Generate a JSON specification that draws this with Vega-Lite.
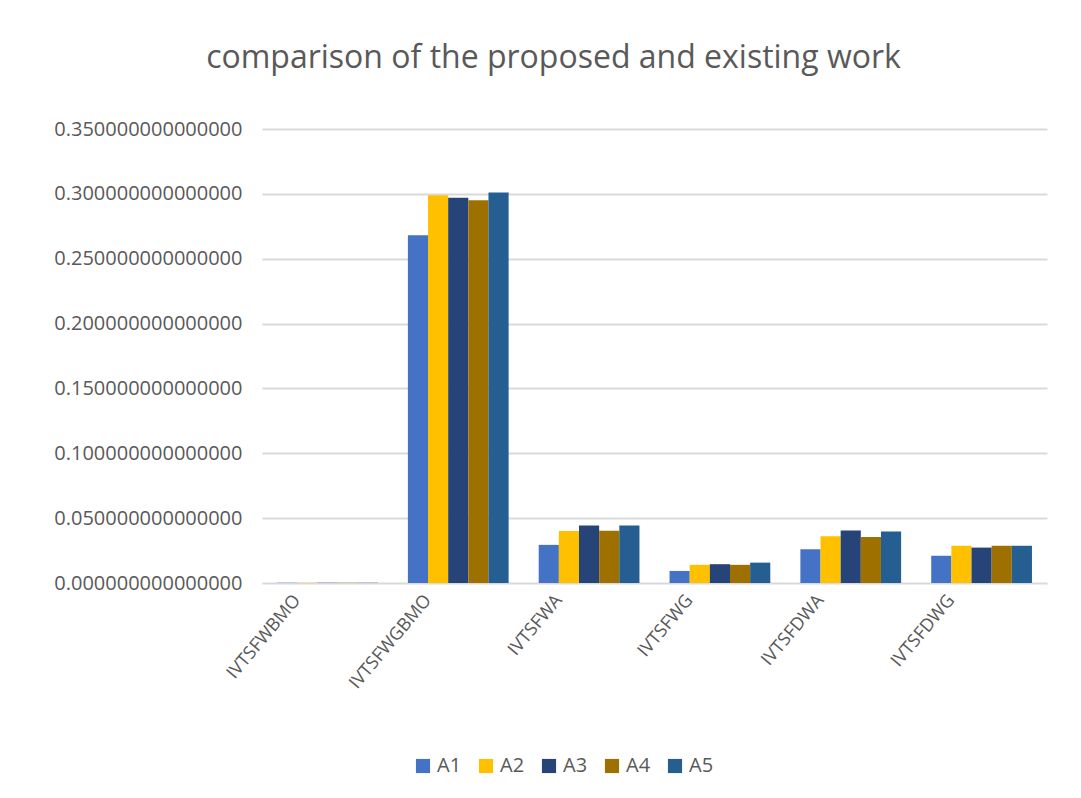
{
  "$schema": "https://vega.github.io/schema/vega-lite/v6.json",
  "autosize": "none",
  "width": 785,
  "height": 454,
  "padding": {"left": 262, "top": 129, "right": 34, "bottom": 215},
  "background": "white",
  "title": {
    "text": "comparison of the proposed and existing work",
    "font": "Open Sans",
    "fontSize": 32,
    "fontWeight": "normal",
    "color": "#595959",
    "anchor": "middle",
    "frame": "group",
    "dx": -101,
    "offset": 44
  },
  "data": {
    "values": [
      {"method": "IVTSFWBMO", "series": "A1", "value": 0.0002},
      {"method": "IVTSFWBMO", "series": "A2", "value": 0.0002},
      {"method": "IVTSFWBMO", "series": "A3", "value": 0.0002},
      {"method": "IVTSFWBMO", "series": "A4", "value": 0.0002},
      {"method": "IVTSFWBMO", "series": "A5", "value": 0.0002},
      {"method": "IVTSFWGBMO", "series": "A1", "value": 0.268},
      {"method": "IVTSFWGBMO", "series": "A2", "value": 0.299},
      {"method": "IVTSFWGBMO", "series": "A3", "value": 0.297},
      {"method": "IVTSFWGBMO", "series": "A4", "value": 0.295},
      {"method": "IVTSFWGBMO", "series": "A5", "value": 0.301},
      {"method": "IVTSFWA", "series": "A1", "value": 0.0294},
      {"method": "IVTSFWA", "series": "A2", "value": 0.0400},
      {"method": "IVTSFWA", "series": "A3", "value": 0.0443},
      {"method": "IVTSFWA", "series": "A4", "value": 0.0402},
      {"method": "IVTSFWA", "series": "A5", "value": 0.0443},
      {"method": "IVTSFWG", "series": "A1", "value": 0.0093},
      {"method": "IVTSFWG", "series": "A2", "value": 0.0140},
      {"method": "IVTSFWG", "series": "A3", "value": 0.0145},
      {"method": "IVTSFWG", "series": "A4", "value": 0.0140},
      {"method": "IVTSFWG", "series": "A5", "value": 0.0157},
      {"method": "IVTSFDWA", "series": "A1", "value": 0.0260},
      {"method": "IVTSFDWA", "series": "A2", "value": 0.0360},
      {"method": "IVTSFDWA", "series": "A3", "value": 0.0405},
      {"method": "IVTSFDWA", "series": "A4", "value": 0.0354},
      {"method": "IVTSFDWA", "series": "A5", "value": 0.0397},
      {"method": "IVTSFDWG", "series": "A1", "value": 0.0210},
      {"method": "IVTSFDWG", "series": "A2", "value": 0.0287},
      {"method": "IVTSFDWG", "series": "A3", "value": 0.0273},
      {"method": "IVTSFDWG", "series": "A4", "value": 0.0287},
      {"method": "IVTSFDWG", "series": "A5", "value": 0.0287}
    ]
  },
  "mark": {"type": "bar"},
  "encoding": {
    "x": {
      "field": "method",
      "type": "nominal",
      "sort": null,
      "scale": {"paddingInner": 0.23, "paddingOuter": 0.115},
      "axis": {
        "title": null,
        "labelAngle": -50,
        "labelFont": "Open Sans",
        "labelFontSize": 18,
        "labelColor": "#595959",
        "labelOffset": -30,
        "labelPadding": 14,
        "labelLimit": 0,
        "domain": false,
        "ticks": false
      }
    },
    "xOffset": {"field": "series", "type": "nominal", "sort": null},
    "y": {
      "field": "value",
      "type": "quantitative",
      "scale": {"domain": [0, 0.35], "nice": false},
      "axis": {
        "title": null,
        "values": [0, 0.05, 0.1, 0.15, 0.2, 0.25, 0.3, 0.35],
        "format": ".15f",
        "labelFont": "Open Sans",
        "labelFontSize": 20,
        "labelColor": "#595959",
        "labelPadding": 20,
        "labelLimit": 0,
        "domain": false,
        "ticks": false,
        "gridColor": "#d9d9d9",
        "gridWidth": 2
      }
    },
    "color": {
      "field": "series",
      "type": "nominal",
      "sort": null,
      "scale": {
        "domain": ["A1", "A2", "A3", "A4", "A5"],
        "range": ["#4472C4", "#FFC000", "#264478", "#9E7000", "#255E91"]
      },
      "legend": {
        "title": null,
        "orient": "none",
        "legendX": 151,
        "legendY": 627,
        "direction": "horizontal",
        "columns": 5,
        "symbolType": "square",
        "symbolSize": 200,
        "symbolStrokeWidth": 0,
        "labelFont": "Open Sans",
        "labelFontSize": 20,
        "labelColor": "#595959",
        "labelOffset": 4,
        "columnPadding": 14
      }
    }
  },
  "config": {
    "view": {"stroke": null}
  }
}
